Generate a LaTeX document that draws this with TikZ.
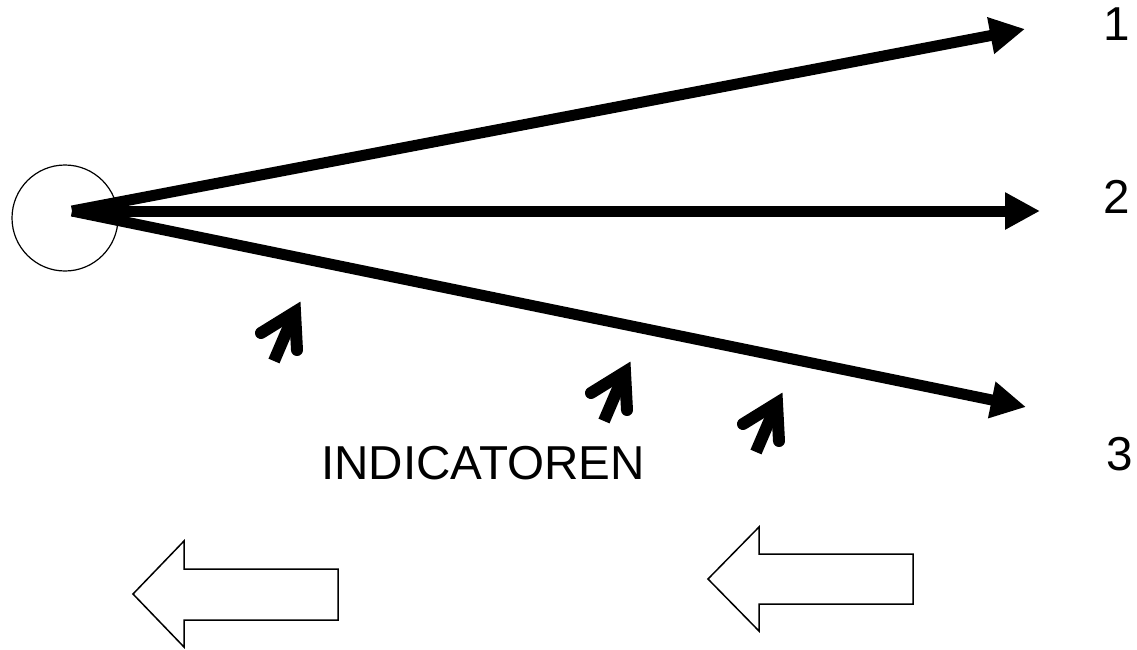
\documentclass[tikz,border=0pt]{standalone}
\usepackage{fontspec}
\setmainfont{Liberation Sans}
\usetikzlibrary{arrows.meta}
\begin{document}
\begin{tikzpicture}[x=0.5pt,y=-0.5pt,
  ray/.style={line width=5.5pt,-{Triangle[length=17.5pt,width=17.5pt]}},
  lbl/.style={inner sep=0pt,font=\fontsize{23.8pt}{28pt}\selectfont},
  block/.style={draw,line width=0.75pt,fill=white,line join=miter},
  ind/.pic={
    \draw[line width=6pt,line join=miter,line cap=round] (-40,31) -- (-6,10) -- (-4,48);
    \draw[line width=6pt] (-27,59) -- (-6,10);
  }]
\useasboundingbox (0,0) rectangle (1137,649);
% source circle
\node[draw,circle,line width=0.6pt,minimum size=53pt,inner sep=0pt] (c) at (65,218) {};
\coordinate (o) at (72,211);
% ray ends
\coordinate (t1) at (1025,29);
\coordinate (t2) at (1040,211);
\coordinate (t3) at (1026,407);
\draw[ray] (o) -- (t1);
\draw[ray] (o) -- (t2);
\draw[ray] (o) -- (t3);
% labels
\node[lbl] (n1) at (1117,24) {1};
\node[lbl] (n2) at (1117,197) {2};
\node[lbl] (n3) at (1120,454) {3};
\node[lbl] (ind) at (483,463) {INDICATOREN};
% indicator arrows
\pic at (301,302) {ind};
\pic at (631,362) {ind};
\pic at (783,393) {ind};
% hollow block arrows
\draw[block] (133,594) -- (184,541) -- (184,569) -- (338,569) -- (338,620) -- (184,620) -- (184,647) -- cycle;
\draw[block] (708,579) -- (759,527) -- (759,554) -- (913,554) -- (913,604) -- (759,604) -- (759,631) -- cycle;
\end{tikzpicture}
\end{document}
